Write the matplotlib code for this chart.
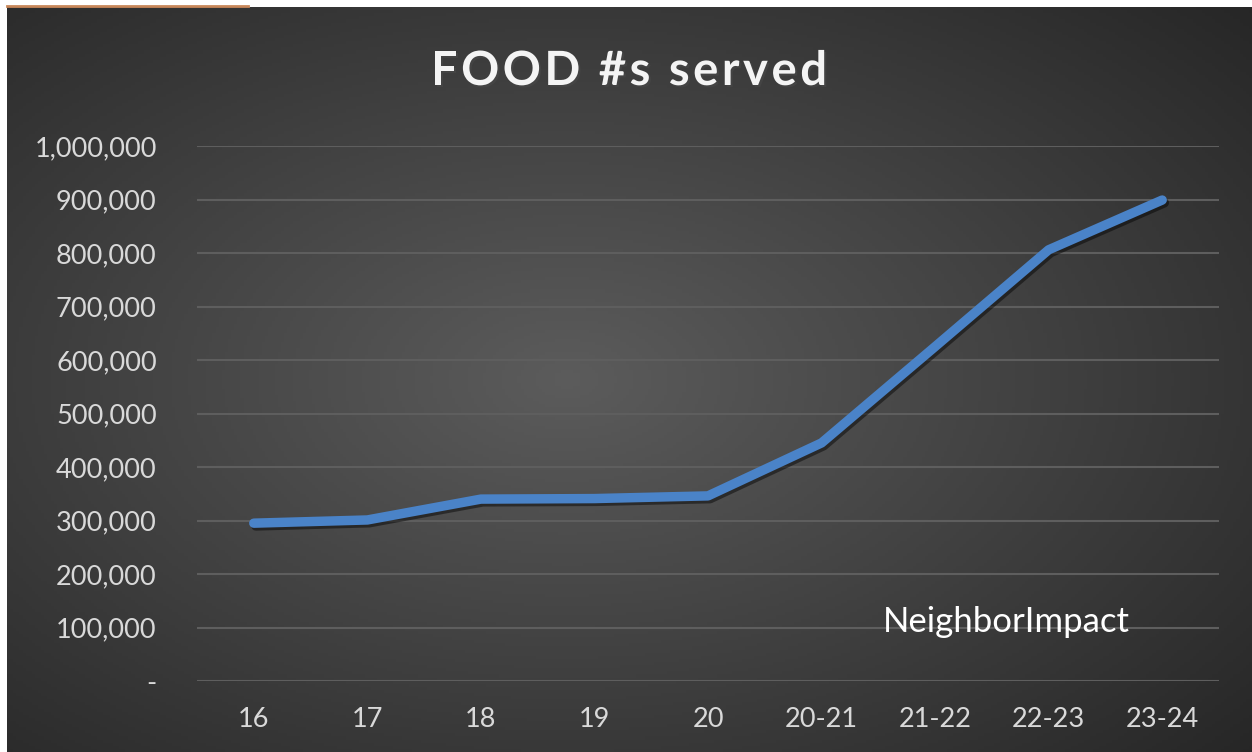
import numpy as np
import matplotlib.pyplot as plt
import matplotlib.patheffects as pe
from matplotlib.ticker import FuncFormatter

# Data
years = ['16', '17', '18', '19', '20', '20-21', '21-22', '22-23', '23-24']
food_served = [295000, 301000, 340000, 341000, 346000, 445000, 625000, 806000, 899000]
y_ticks = [0, 100000, 200000, 300000, 400000, 500000, 600000, 700000, 800000, 900000, 1000000]
title = 'FOOD #s served'

plt.rcParams['font.family'] = ['Lato', 'DejaVu Sans']

W, H = 1252, 752
fig = plt.figure(figsize=(W / 100, H / 100), dpi=100, facecolor='white')

# dark radial gradient background (leaves thin white margin top/left)
bg = fig.add_axes([7 / W, 0, 1 - 7 / W, (H - 7) / H])
bg.set_axis_off()
gx, gy = np.meshgrid(np.linspace(0, 1, 400), np.linspace(0, 1, 240))
dist = np.sqrt(((gx - 0.45) / 0.75) ** 2 + ((gy - 0.5) / 0.75) ** 2)
shade = 0.36 - 0.21 * np.clip(dist, 0, 1)
bg.imshow(np.dstack([shade] * 3), extent=[0, 1, 0, 1], aspect='auto', origin='lower')
bg.set_xlim(0, 1)
bg.set_ylim(0, 1)

# thin orange accent at the top-left edge
fig.add_artist(plt.Line2D([7 / W, 248 / W], [1 - 6 / H, 1 - 6 / H], color='#c8875a', lw=2))

ax = fig.add_axes([197 / W, 71 / H, (1219 - 197) / W, (681 - 146) / H])
ax.patch.set_alpha(0)

x = np.arange(len(years))
ax.plot(x, food_served, color='#4a83c8', lw=6.8, solid_capstyle='round', solid_joinstyle='round',
        zorder=3, path_effects=[pe.SimpleLineShadow(offset=(1.5, -2), alpha=0.45, shadow_color='black'),
                                pe.Normal()])

ax.set_xlim(-0.5, len(years) - 0.5)
ax.set_ylim(0, 1000000)
ax.set_yticks(y_ticks)
ax.yaxis.set_major_formatter(FuncFormatter(lambda v, p: '-' if v == 0 else f'{int(v):,}'))
ax.set_xticks(x)
ax.set_xticklabels(years)
ax.grid(axis='y', color='#5e5e5e', lw=1.5)
ax.set_axisbelow(True)
for s in ax.spines.values():
    s.set_visible(False)
ax.tick_params(axis='both', length=0, colors='#d9d9d9', labelsize=19.5)
ax.tick_params(axis='y', pad=29)
ax.tick_params(axis='x', pad=19)

# title with letter spacing, drawn one character at a time
renderer = fig.canvas.get_renderer()
shadow = [pe.withSimplePatchShadow(offset=(1.5, -1.5), alpha=0.6)]
spacing = 3.5
chars = []
widths = []
for ch in title:
    t = fig.text(0, 1 - 71 / H, ch if ch != ' ' else '\u00a0', ha='left', va='center', color='#f4f4f4',
                 fontsize=34, fontweight='bold', path_effects=shadow)
    chars.append(t)
    widths.append(t.get_window_extent(renderer).width)
total = sum(widths) + spacing * (len(title) - 1)
xpos = 629 - total / 2
for t, w in zip(chars, widths):
    t.set_x(xpos / W)
    xpos += w + spacing

ax.text(6.63, 92000, 'NeighborImpact', ha='center', va='baseline', color='white', fontsize=25)

fig.savefig('out.png', dpi=100, facecolor='white')
